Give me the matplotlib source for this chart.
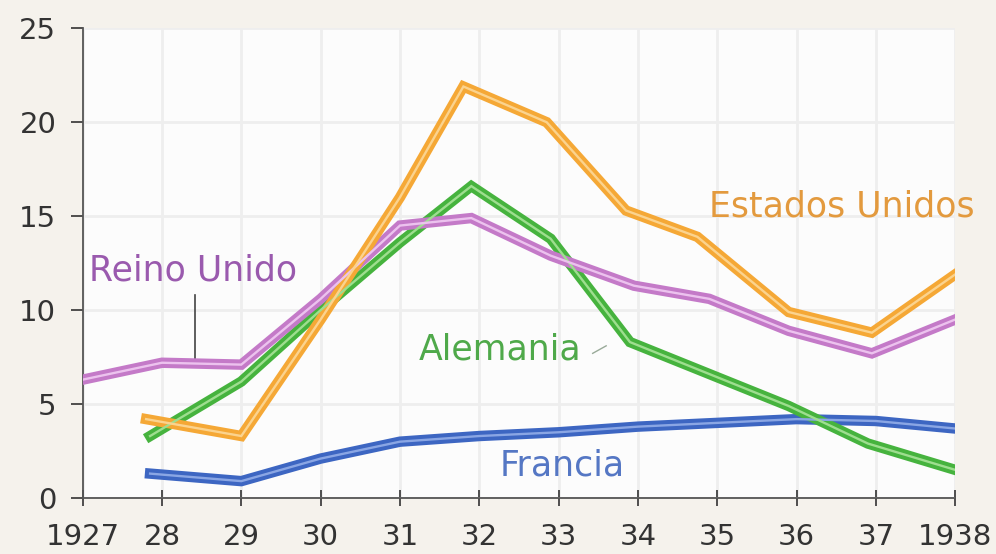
import numpy as np
import matplotlib.pyplot as plt

# datos (porcentaje de desempleo)
x_reino = [1927, 1928, 1929, 1930, 1931, 1931.9, 1932.9, 1933.95, 1934.9, 1935.9, 1936.95, 1938]
y_reino = [6.3, 7.2, 7.1, 10.6, 14.5, 14.9, 12.9, 11.3, 10.6, 8.9, 7.7, 9.5]

x_eeuu = [1927.8, 1929, 1930, 1931, 1931.8, 1932.85, 1933.85, 1934.75, 1935.9, 1936.95, 1938]
y_eeuu = [4.2, 3.3, 9.5, 16.0, 21.9, 20.0, 15.3, 13.9, 9.9, 8.8, 11.9]

x_alem = [1927.85, 1929, 1930, 1931, 1931.9, 1932.9, 1933.9, 1934.9, 1935.9, 1936.9, 1938]
y_alem = [3.3, 6.2, 10.0, 13.6, 16.6, 13.8, 8.3, 6.6, 4.9, 2.9, 1.5]

x_fran = [1927.85, 1929, 1930, 1931, 1932, 1933, 1934, 1935, 1936, 1937, 1938]
y_fran = [1.3, 0.9, 2.1, 3.0, 3.3, 3.5, 3.8, 4.0, 4.2, 4.1, 3.7]

years = list(range(1927, 1939))
year_labels = ['1927'] + [str(y)[2:] for y in years[1:-1]] + ['1938']

fig = plt.figure(figsize=(9.96, 5.54), dpi=100)
fig.patch.set_facecolor('#f5f2ec')
ax = fig.add_axes([0.083, 0.101, 0.876, 0.848])
ax.set_facecolor('#fcfcfc')


def linea(x, y, color, claro):
    ax.plot(x, y, color=color, lw=7.5, solid_joinstyle='miter', zorder=3)
    ax.plot(x, y, color=claro, lw=1.7, solid_joinstyle='miter', zorder=4)


linea(x_fran, y_fran, '#3d66c2', '#8aa6e4')
linea(x_alem, y_alem, '#46b33e', '#9ede8f')
linea(x_reino, y_reino, '#c47ac8', '#ecc2ee')
linea(x_eeuu, y_eeuu, '#f5a836', '#fbd38e')

ax.set_xlim(1927, 1938)
ax.set_ylim(0, 25)
ax.set_xticks(years)
ax.set_xticklabels(year_labels)
ax.set_yticks([0, 5, 10, 15, 20, 25])
ax.grid(color='#eeeeee', lw=2)
ax.set_axisbelow(True)
ax.tick_params(axis='both', labelsize=21, colors='#333333', width=1.2)
ax.tick_params(axis='y', length=9, pad=10)
ax.tick_params(axis='x', direction='inout', length=12, pad=12)
for s in ['top', 'right']:
    ax.spines[s].set_visible(False)
for s in ['left', 'bottom']:
    ax.spines[s].set_color('#555555')
    ax.spines[s].set_linewidth(1.3)

ax.text(1928.39, 12.1, 'Reino Unido', color='#9a5aae', fontsize=25, ha='center', va='center')
ax.plot([1928.41, 1928.41], [7.3, 10.8], color='#444444', lw=1.2)
ax.text(1932.26, 7.9, 'Alemania', color='#4fa94a', fontsize=25, ha='center', va='center')
ax.plot([1933.43, 1933.6], [7.7, 8.1], color='#99aa99', lw=1)
ax.text(1936.57, 15.5, 'Estados Unidos', color='#e39a3e', fontsize=25, ha='center', va='center')
ax.text(1933.04, 1.75, 'Francia', color='#5577c4', fontsize=25, ha='center', va='center')

plt.savefig('out.png', dpi=100, facecolor=fig.get_facecolor())
